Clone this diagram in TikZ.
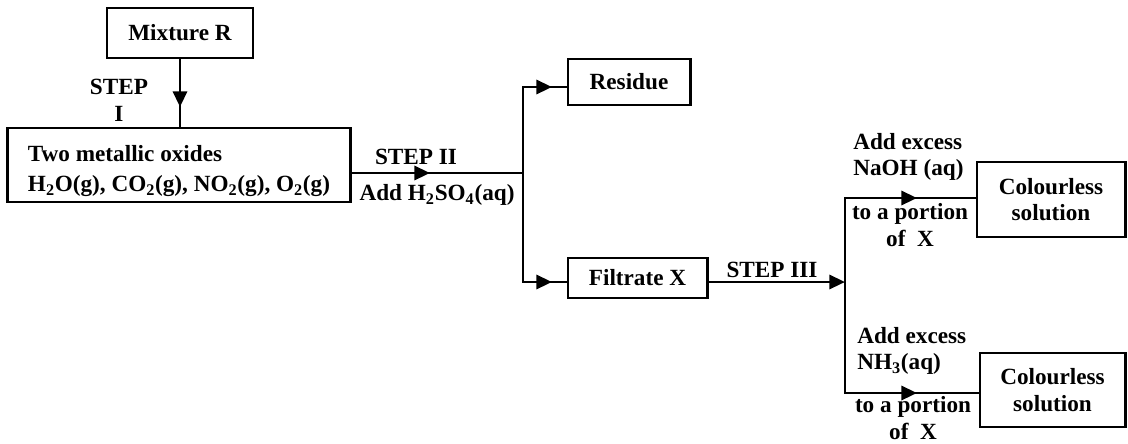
\documentclass[tikz,border=0pt]{standalone}
\usepackage{fontspec}
\setmainfont{Liberation Serif}
\usetikzlibrary{arrows.meta,positioning}
\tikzset{
  stage/.style={draw, line width=2.1pt, align=center, inner sep=0pt},
  flow/.style={-{Triangle[length=3.9mm,width=3.5mm]}, line width=2.1pt},
  wire/.style={line width=2.1pt},
  note/.style={align=center, inner sep=0pt}
}

\begin{document}
\begin{tikzpicture}[x=0.025cm, y=-0.025cm, font=\fontsize{16.5}{19}\selectfont\bfseries]
        \useasboundingbox (0,0) rectangle (1128,443);
        \node[stage, minimum width=3.65cm, minimum height=1.25cm] (mix) at (180,33) {Mixture R};
        \node[stage, align=left, minimum width=8.55cm, minimum height=1.85cm] (oxides) at (179,165)
          {\rule{0pt}{20pt}Two metallic oxides\\[3pt]H\textsubscript{2}O(g), CO\textsubscript{2}(g), NO\textsubscript{2}(g), O\textsubscript{2}(g)};
        \node[stage, minimum width=3.05cm, minimum height=1.15cm] (residue) at (629,82) {Residue};
        \node[stage, minimum width=3.475cm, minimum height=1cm] (filt) at (637.5,278) {Filtrate X};
        \node[stage, minimum width=3.7cm, minimum height=1.875cm] (colA) at (1051,199.5) {Colourless\\solution};
        \node[stage, minimum width=3.625cm, minimum height=1.85cm] (colB) at (1052.5,390) {Colourless\\solution};

        % junctions and arrow tips
        \coordinate (tipI) at (180,107);
        \coordinate (split) at (523,173);
        \coordinate (tipII) at (430,173);
        \coordinate (up) at (523,87);
        \coordinate (down) at (523,282);
        \coordinate (tipRes) at (552,87);
        \coordinate (tipFil) at (552,282);
        \coordinate (fork) at (845,282);
        \coordinate (top) at (845,198);
        \coordinate (bot) at (845,393);
        \coordinate (tipA) at (917,198);
        \coordinate (tipB) at (917,393);

        % step I
        \draw[wire] (mix.south) -- (mix.south |- oxides.north);
        \draw[flow] (mix.south) -- (tipI);
        \node[note] (stepI) at (119,100) {STEP\\I};

        % step II
        \draw[wire] (oxides.east |- split) -- (split);
        \draw[flow] (oxides.east |- split) -- (tipII);
        \draw[wire] (residue.west |- up) -- (up) -- (down) -- (filt.west |- down);
        \draw[flow] (up) -- (tipRes);
        \draw[flow] (down) -- (tipFil);
        \node[note] (stepII) at (416,157) {STEP II};
        \node[note] (acid) at (437,195) {Add H\textsubscript{2}SO\textsubscript{4}(aq)};

        % step III
        \draw[flow] (filt.east |- fork) -- (fork);
        \node[note] (stepIII) at (772,270) {STEP III};
        \draw[wire] (colA.west |- top) -- (top) -- (bot) -- (colB.west |- bot);
        \draw[flow] (top) -- (tipA);
        \draw[flow] (bot) -- (tipB);
        \node[note, align=left, anchor=west] (soda) at (853,157) {Add excess\\NaOH (aq)};
        \node[note] (partA) at (910,225) {to a portion\\of\ \ X};
        \node[note, align=left, anchor=west] (ammonia) at (857,351) {Add excess\\NH\textsubscript{3}(aq)};
        \node[note] (partB) at (913,418) {to a portion\\of\ \ X};
\end{tikzpicture}
\end{document}
